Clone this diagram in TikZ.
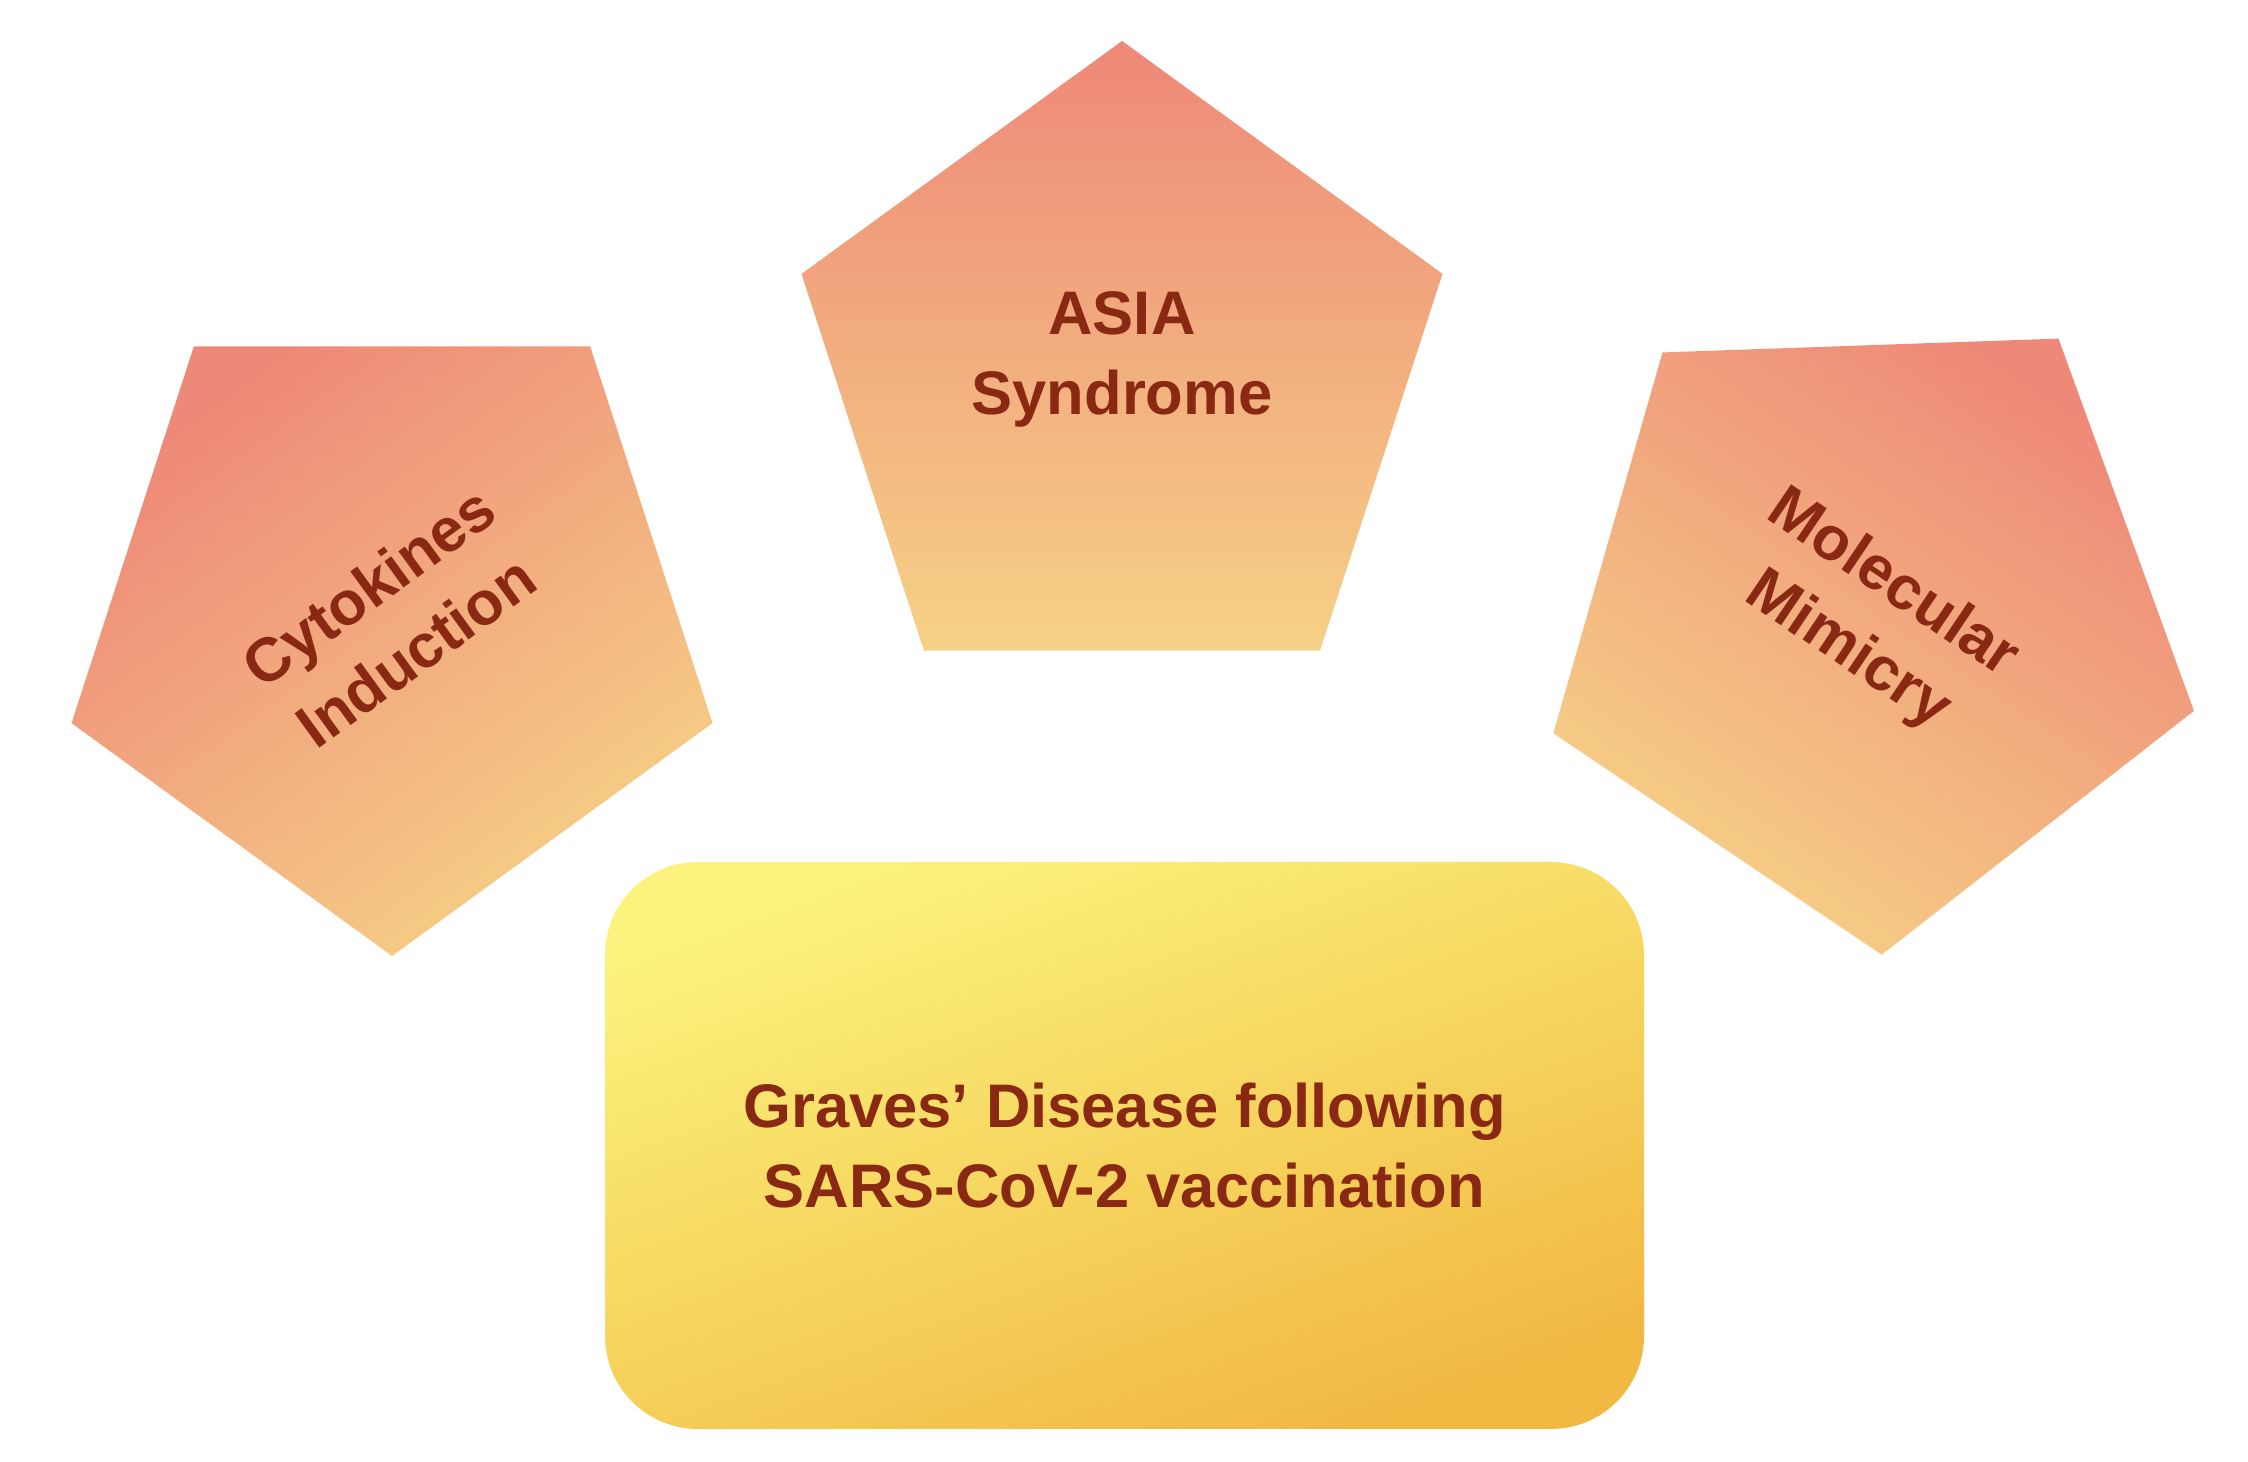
\documentclass[tikz,border=0pt]{standalone}
\usepackage{fontspec}
\setmainfont{Liberation Sans}
\usetikzlibrary{shapes.geometric}
\definecolor{Brick}{HTML}{8A2913}
\definecolor{Salmon}{HTML}{EE8878}
\definecolor{Apricot}{HTML}{F6D186}
\definecolor{Lemon}{HTML}{FBF37D}
\definecolor{Amber}{HTML}{F1B842}
\tikzset{
  mechanism/.style={
    shape=regular polygon, regular polygon sides=5,
    minimum size=6.74cm, inner sep=0pt,
    top color=Salmon, bottom color=Apricot,
    text=Brick, align=center,
    font=\fontsize{17.5}{22.8}\selectfont\bfseries,
  },
  outcome/.style={
    rectangle, rounded corners=0.93cm,
    minimum width=10.39cm, minimum height=5.67cm,
    top color=Lemon, bottom color=Amber, shading angle=20,
    text=Brick, align=center,
    font=\fontsize{17.5}{22.8}\selectfont\bfseries,
  }
}

\begin{document}
\begin{tikzpicture}
        \useasboundingbox (0,0) rectangle (22.48,-14.62);
        % mechanisms
        \node[mechanism, text depth=0.5cm] (asia) at (11.22,-3.78) {ASIA\\Syndrome};
        \node[mechanism, rotate=36, shading angle=36] (cytokines) at (3.92,-6.19)
          {Cytokines\\Induction};
        \node[mechanism, rotate=-34, shading angle=-34] (mimicry) at (18.70,-6.18)
          {Molecular\\Mimicry};
        % outcome
        \node[outcome] (graves) at (11.245,-11.455)
          {Graves’ Disease following\\SARS-CoV-2 vaccination};
      \end{tikzpicture}
\end{document}
